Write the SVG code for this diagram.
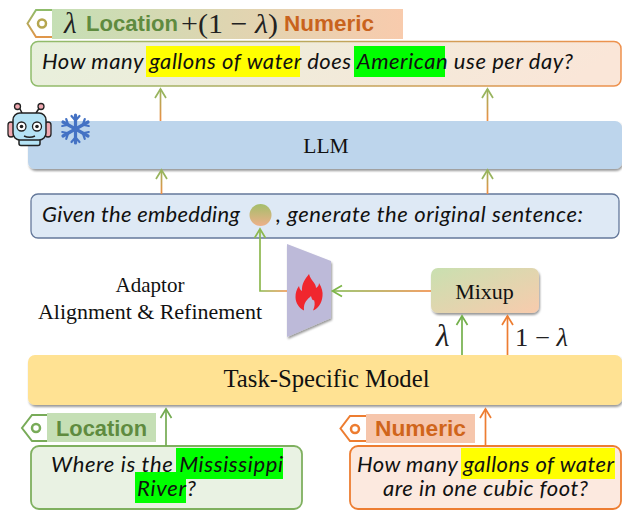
<svg xmlns="http://www.w3.org/2000/svg" width="622" height="510" viewBox="0 0 622 510">
<style>
.q{font-family:"Lato","Open Sans",sans-serif;font-style:italic;font-size:22px;fill:#111}
.s{font-family:"Liberation Serif",serif;fill:#111}
.tag{font-family:"Liberation Sans",Arial,sans-serif;font-weight:bold;font-size:21.5px}
.m{font-family:"Liberation Serif",serif;fill:#222}
</style>
<defs>
<linearGradient id="band" x1="0" y1="0" x2="1" y2="0"><stop offset="0" stop-color="#C5DFB5"/><stop offset="1" stop-color="#F8CBAD"/></linearGradient>
<linearGradient id="tb" x1="0" y1="0" x2="1" y2="0.1"><stop offset="0" stop-color="#E7F0DC"/><stop offset="1" stop-color="#FAE6D8"/></linearGradient>
<linearGradient id="ts" x1="0" y1="0" x2="1" y2="0"><stop offset="0" stop-color="#8FBC6B"/><stop offset="1" stop-color="#EE914D"/></linearGradient>
<linearGradient id="tagg" x1="0" y1="0" x2="0" y2="1"><stop offset="0" stop-color="#8FBC6B"/><stop offset="1" stop-color="#E0964A"/></linearGradient>
<linearGradient id="mix" x1="0" y1="0" x2="1" y2="1"><stop offset="0" stop-color="#C9E0B0"/><stop offset="1" stop-color="#F8CBAD"/></linearGradient>
<linearGradient id="dot" x1="0" y1="0" x2="0" y2="1"><stop offset="0" stop-color="#A4BE6A"/><stop offset="1" stop-color="#EDB08A"/></linearGradient>
<linearGradient id="upA" gradientUnits="userSpaceOnUse" x1="0" y1="121" x2="0" y2="88"><stop offset="0" stop-color="#EE8F45"/><stop offset="1" stop-color="#98B45E"/></linearGradient>
<linearGradient id="upB" gradientUnits="userSpaceOnUse" x1="0" y1="194" x2="0" y2="169"><stop offset="0" stop-color="#EE8F45"/><stop offset="1" stop-color="#98B45E"/></linearGradient>
<linearGradient id="l1" gradientUnits="userSpaceOnUse" x1="287" y1="0" x2="260" y2="0"><stop offset="0" stop-color="#EE8F45"/><stop offset="1" stop-color="#8CB84F"/></linearGradient>
<linearGradient id="l2" gradientUnits="userSpaceOnUse" x1="431" y1="0" x2="332" y2="0"><stop offset="0" stop-color="#EE8134"/><stop offset="1" stop-color="#7DB548"/></linearGradient>
<filter id="sh" x="-5%" y="-10%" width="110%" height="125%"><feDropShadow dx="1" dy="2" stdDeviation="1" flood-color="#000" flood-opacity="0.4"/></filter>
</defs>

<g id="node-top-tag">
<path d="M52 10H36L27.500 23.500L36 37H52" fill="#fff" stroke="url(#tagg)" stroke-width="2"/>
<circle cx="42" cy="23.500" r="4" fill="none" stroke="#B5A64F" stroke-width="2.500"/>
<rect x="52" y="9" width="351" height="30" fill="url(#band)"/>
<text class="m" x="64" y="33" font-size="29" font-style="italic">λ</text>
<text class="tag" x="86" y="31" fill="#5F8B3F" textLength="92" lengthAdjust="spacingAndGlyphs">Location</text>
<text class="m" x="181" y="33" font-size="28" textLength="97" lengthAdjust="spacingAndGlyphs">+(1 − <tspan font-style="italic">λ</tspan>)</text>
<text class="tag" x="284" y="31" fill="#C9631D" textLength="90" lengthAdjust="spacingAndGlyphs">Numeric</text>
</g>

<g id="node-top-question">
<rect x="31" y="41.500" width="590" height="44.500" rx="7" fill="url(#tb)" stroke="url(#ts)" stroke-width="1.500"/>
<rect x="146" y="46" width="154" height="31" fill="#FFFF00"/>
<rect x="354" y="46" width="91" height="31" fill="#00FF00"/>
<text class="q" x="42" y="69" textLength="531" lengthAdjust="spacing">How many gallons of water does American use per day?</text>
</g>

<g id="node-llm">
<rect x="28" y="121" width="594" height="48" rx="7" fill="#BDD5EC" filter="url(#sh)"/>
<text class="s" x="326" y="153" font-size="21.500" text-anchor="middle">LLM</text>
</g>

<g id="node-robot">
<line x1="22" y1="113" x2="19" y2="107" stroke="#222" stroke-width="1.500"/>
<line x1="36" y1="113" x2="40" y2="107" stroke="#222" stroke-width="1.500"/>
<circle cx="17.500" cy="106.500" r="3" fill="#F0A8B0" stroke="#222" stroke-width="1.300"/>
<circle cx="41" cy="106.500" r="3" fill="#F0A8B0" stroke="#222" stroke-width="1.300"/>
<rect x="8" y="122" width="6" height="15" rx="3" fill="#F0A8B0" stroke="#222" stroke-width="1.300"/>
<rect x="45" y="122" width="6" height="15" rx="3" fill="#F0A8B0" stroke="#222" stroke-width="1.300"/>
<path d="M19 139V143.500Q19 145.500 21 145.500H38Q40 145.500 40 143.500V139" fill="#B5E3F5" stroke="#222" stroke-width="1.500"/>
<rect x="13" y="113" width="33" height="27" rx="7" fill="#B5E3F5" stroke="#222" stroke-width="1.500"/>
<circle cx="21.500" cy="126.500" r="4.500" fill="#fff" stroke="#222" stroke-width="1.300"/><circle cx="21.500" cy="126.500" r="1.800" fill="#222"/>
<circle cx="37" cy="126.500" r="4.500" fill="#fff" stroke="#222" stroke-width="1.300"/><circle cx="37" cy="126.500" r="1.800" fill="#222"/>
<path d="M24 136Q29.500 138.500 35 136" fill="none" stroke="#222" stroke-width="1.500"/>
</g>

<g id="node-snowflake" stroke="#4472C4" fill="none" stroke-linecap="round" transform="translate(75.500 129)">
<g stroke-width="3.200">
<path d="M0-14V14"/><path d="M-12.500-7L12.500 7"/><path d="M-12.500 7L12.500-7"/>
</g>
<g stroke-width="2.200">
<path d="M-4-13L0-8.500L4-13"/>
<path d="M-4-13L0-8.500L4-13" transform="rotate(60)"/>
<path d="M-4-13L0-8.500L4-13" transform="rotate(120)"/>
<path d="M-4-13L0-8.500L4-13" transform="rotate(180)"/>
<path d="M-4-13L0-8.500L4-13" transform="rotate(240)"/>
<path d="M-4-13L0-8.500L4-13" transform="rotate(300)"/>
</g>
</g>

<g id="node-prompt">
<rect x="31" y="194" width="588" height="44" rx="7" fill="#DEE9F5" stroke="#64789A" stroke-width="1.300"/>
<text class="q" x="42" y="222" textLength="198" lengthAdjust="spacing">Given the embedding</text>
<circle cx="260.500" cy="215" r="11" fill="url(#dot)"/>
<text class="q" x="276" y="222" textLength="307" lengthAdjust="spacing">, generate the original sentence:</text>
</g>

<g id="node-adaptor">
<polygon points="287,244 331,261 331,318 287,337" fill="#BDBAD9" filter="url(#sh)"/>
<path d="M309 274C311 281 316 283 316 288C318 287 319 285 319 283C322 288 323 292 322.500 296C322 303 318 309 313 310.500C315 306 315 303 314 300C313 301 312 300 311 296C308 299 303 302 304 310.500C299 308 295.500 303 295.500 297C295.500 293 296.500 289 299 286C299.500 289 300.500 290 302 291C301.500 284 305 279 309 274Z" fill="#F0262E"/>
<text class="s" x="150" y="292" font-size="21" text-anchor="middle">Adaptor</text>
<text class="s" x="150" y="319" font-size="21" text-anchor="middle" textLength="224" lengthAdjust="spacingAndGlyphs">Alignment &amp; Refinement</text>
</g>

<g id="node-mixup">
<rect x="431" y="268" width="108" height="45" rx="7" fill="url(#mix)" filter="url(#sh)"/>
<text class="s" x="484.500" y="299" font-size="22" text-anchor="middle">Mixup</text>
</g>

<g id="node-task-model">
<rect x="28" y="355" width="594" height="50" rx="7" fill="#FFE293" filter="url(#sh)"/>
<text class="s" x="326.500" y="387" font-size="24.700" text-anchor="middle">Task-Specific Model</text>
</g>

<g id="node-location-tag">
<path d="M48 415H32L22 428L32 441H58" fill="#fff" stroke="#78AB58" stroke-width="2"/>
<circle cx="36" cy="428" r="4" fill="none" stroke="#78AB58" stroke-width="2.500"/>
<rect x="47" y="413" width="109" height="29" fill="#C5DFB5"/>
<text class="tag" x="56" y="436" fill="#5F8B3F" textLength="91" lengthAdjust="spacingAndGlyphs">Location</text>
</g>
<g id="node-location-question">
<rect x="31" y="446" width="271" height="63" rx="8" fill="#E9F2E3" stroke="#7FB05F" stroke-width="1.800"/>
<rect x="176" y="448" width="107" height="31" fill="#00FF00"/>
<rect x="135" y="472" width="51" height="31" fill="#00FF00"/>
<text class="q" x="51" y="472" textLength="232" lengthAdjust="spacing">Where is the Mississippi</text>
<text class="q" x="137" y="496" textLength="59" lengthAdjust="spacing">River?</text>
</g>

<g id="node-numeric-tag">
<path d="M366 416H350L340.500 428.500L350 441H376" fill="#fff" stroke="#ED7D31" stroke-width="2"/>
<circle cx="355" cy="429" r="4" fill="none" stroke="#ED7D31" stroke-width="2.500"/>
<rect x="366" y="414" width="109" height="29" fill="#F6C6AC"/>
<text class="tag" x="375" y="436" fill="#D0651B" textLength="91" lengthAdjust="spacingAndGlyphs">Numeric</text>
</g>
<g id="node-numeric-question">
<rect x="350" y="446" width="271" height="63" rx="8" fill="#FCE9DF" stroke="#ED7D31" stroke-width="1.800"/>
<rect x="461" y="448" width="154" height="31" fill="#FFFF00"/>
<text class="q" x="357" y="472" textLength="257" lengthAdjust="spacing">How many gallons of water</text>
<text class="q" x="383" y="496" textLength="205" lengthAdjust="spacing">are in one cubic foot?</text>
</g>

<g id="connectors" fill="none" stroke-width="1.700">
<path d="M160.500 121V89" stroke="url(#upA)"/>
<path d="M155 98L160.500 89L166 98" stroke="#98B45E"/>
<path d="M487.500 121V89" stroke="url(#upA)"/>
<path d="M482 98L487.500 89L493 98" stroke="#98B45E"/>
<path d="M161.500 194V170" stroke="url(#upB)"/>
<path d="M156 179L161.500 170L167 179" stroke="#98B45E"/>
<path d="M487.500 194V170" stroke="url(#upB)"/>
<path d="M482 179L487.500 170L493 179" stroke="#98B45E"/>
<path d="M287 291H260V230" stroke="url(#l1)"/>
<path d="M254.500 238L260 229L265.500 238" stroke="#8CB84F"/>
<path d="M431 291H333" stroke="url(#l2)"/>
<path d="M342 285.500L332.500 291L342 296.500" stroke="#7DB548"/>
<path d="M462 355V316" stroke="#74B04C"/>
<path d="M456.500 325L462 316L467.500 325" stroke="#74B04C"/>
<path d="M507.500 355V316" stroke="#ED7D31"/>
<path d="M502 325L507.500 316L513 325" stroke="#ED7D31"/>
<path d="M166 446V409" stroke="#74AB52"/>
<path d="M160.500 418L166 409L171.500 418" stroke="#74AB52"/>
<path d="M485.500 446V409" stroke="#ED7D31"/>
<path d="M480 418L485.500 409L491 418" stroke="#ED7D31"/>
</g>
<text class="m" x="436" y="346" font-size="31" font-style="italic">λ</text>
<text class="m" x="515" y="346" font-size="25" textLength="53" lengthAdjust="spacingAndGlyphs">1 − <tspan font-style="italic">λ</tspan></text>
</svg>
